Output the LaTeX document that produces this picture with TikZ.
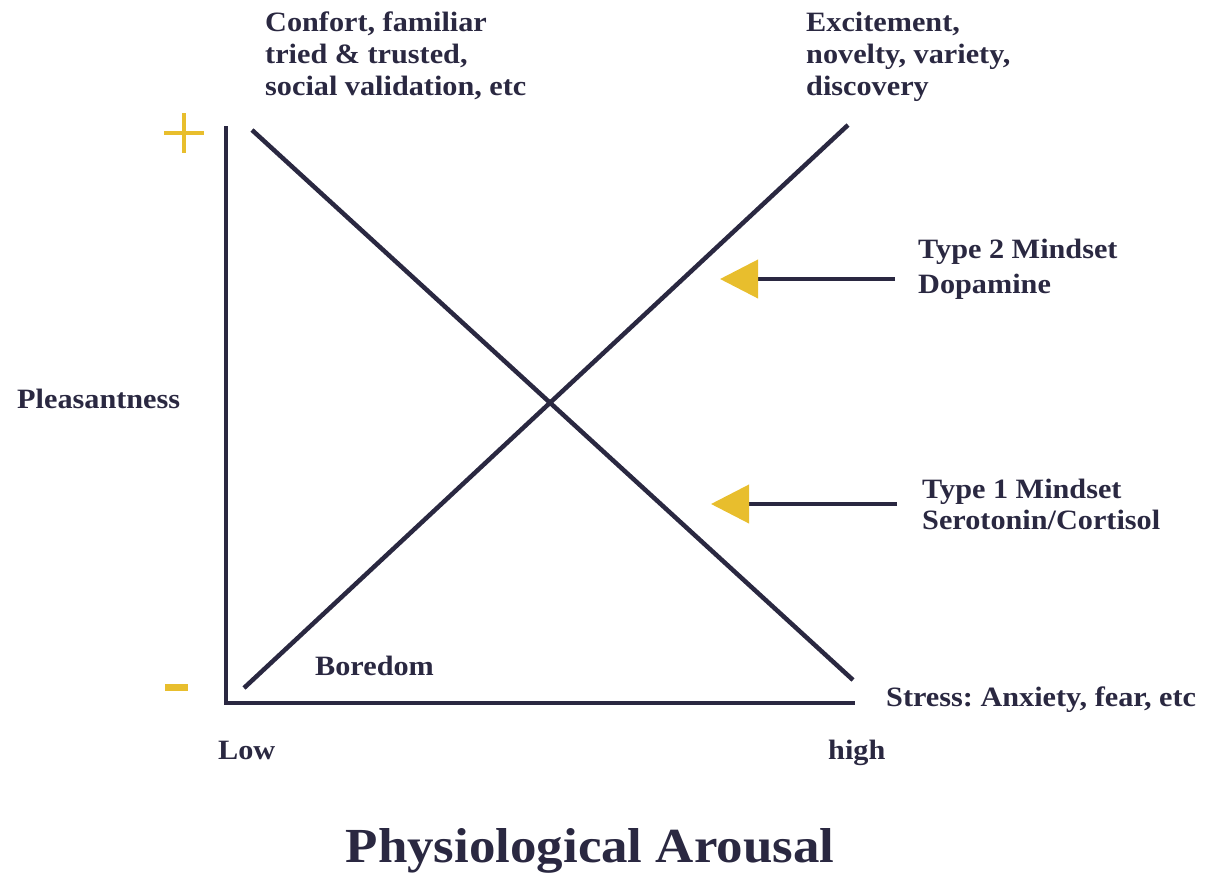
\documentclass[tikz,border=0pt]{standalone}
\usepackage{fontspec}
\setmainfont{Liberation Serif}[FakeStretch=1.08]
\usepackage{xcolor}
\usepackage{tikz}
\usetikzlibrary{arrows.meta}
\definecolor{axisNavy}{RGB}{42,40,65}
\definecolor{markGold}{RGB}{232,190,45}
\frenchspacing
\tikzstyle{note}    = [anchor=base west, inner sep=0pt, text=axisNavy,
                       font=\fontsize{28}{32}\selectfont\bfseries]
\tikzstyle{pointer} = [-{Triangle[length=38pt, width=38pt, color=markGold]},
                       line width=4pt, axisNavy]

\begin{document}
\begin{tikzpicture}[
  x=1pt, y=-1pt,
  curve/.style={line width=4.5pt, axisNavy},
  sign/.style={line width=4pt, markGold},
  block/.style={note, anchor=north west, align=left}
]
  \useasboundingbox (0,0) rectangle (1207,873);

  % Axes
  \coordinate (ytop) at (226,126);
  \coordinate (xend) at (855,703);
  \draw[curve] (ytop) |- (xend);

  % Crossing lines
  \coordinate (fallA) at (252,130);
  \coordinate (fallB) at (853,680);
  \coordinate (riseA) at (244,688);
  \coordinate (riseB) at (848,125);
  \draw[curve] (fallA) -- (fallB);
  \draw[curve] (riseA) -- (riseB);

  % Plus and minus marks
  \draw[sign] (164,133) -- (204,133) (184,113) -- (184,153);
  \draw[sign, line width=7pt] (165,687) -- (188,687);

  % Top notes
  \node[block] (comfort) at (265,12) {Confort, familiar\\tried \& trusted,\\social validation, etc};
  \node[block] (excite) at (806,12) {Excitement,\\novelty, variety,\\discovery};

  % Axis labels
  \node[note] (pleasant) at (17,408) {Pleasantness};
  \node[note] (boredom) at (315,675) {Boredom};
  \node[note] (stress) at (886,706) {Stress: Anxiety, fear, etc};
  \node[note] (low) at (218,759) {Low};
  \node[note] (high) at (828,759) {high};
  \node[note, anchor=base, font=\fontsize{49}{55}\selectfont\bfseries] (title) at (590,862) {Physiological Arousal};

  % Mindsets
  \node[block, font=\fontsize{28}{35}\selectfont\bfseries] (type2) at (918,239) {Type 2 Mindset\\Dopamine};
  \node[block, font=\fontsize{28}{31}\selectfont\bfseries] (type1) at (922,479) {Type 1 Mindset\\Serotonin/Cortisol};

  \coordinate (t2from) at (895,279);
  \coordinate (t2to) at (720,279);
  \coordinate (t1from) at (897,504);
  \coordinate (t1to) at (711,504);
  \draw[pointer] (t2from) -- (t2to);
  \draw[pointer] (t1from) -- (t1to);

\end{tikzpicture}
\end{document}
